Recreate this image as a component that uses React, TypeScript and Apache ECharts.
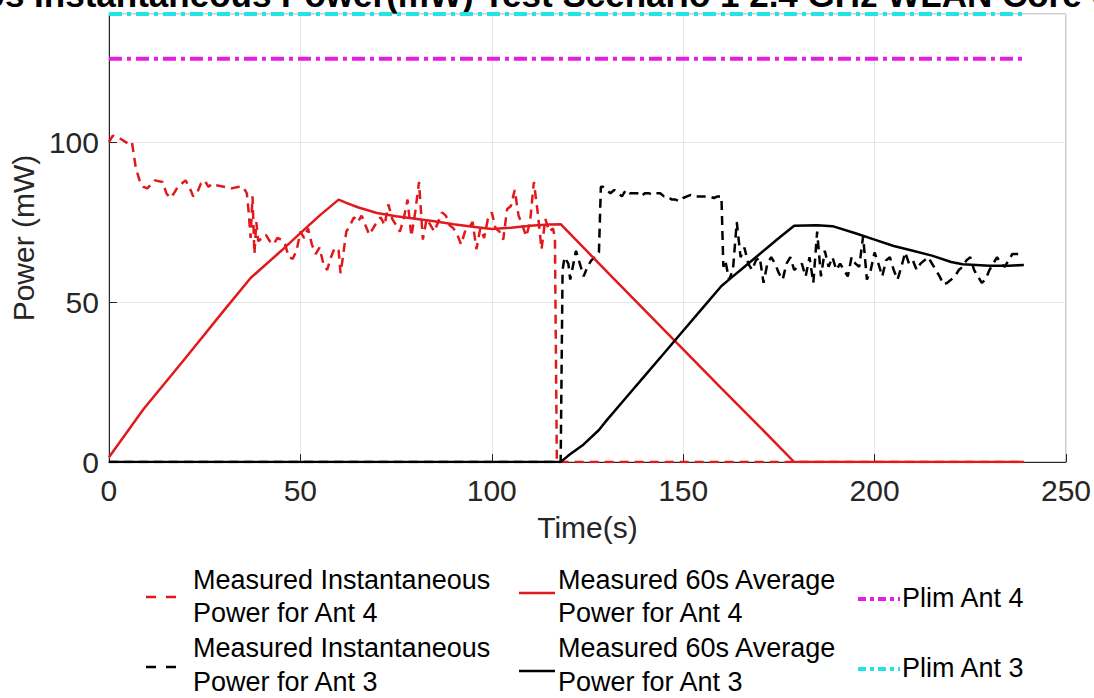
import React, { useEffect, useRef } from "react";
import * as echarts from "echarts";

// ---- data ----
const ant4InstTime = [0, 1, 3, 5, 6, 7, 8, 9, 10, 12, 14, 15, 16, 17, 18, 20, 21, 22, 23, 24, 25, 26, 27, 28, 30, 32, 34, 35, 36, 36.5, 37, 37.5, 38, 38.5, 39, 40, 41, 42, 43, 44, 45, 46, 47, 48, 49, 50, 51, 52, 53, 54, 55, 56, 57, 58, 59, 60, 60.5, 61, 62, 63, 64, 65, 66, 67, 68, 69, 70, 71, 72, 73, 74, 75, 76, 77, 78, 79, 80, 81, 82, 83, 84, 85, 86, 87, 88, 89, 90, 91, 92, 93, 94, 95, 96, 97, 98, 99, 100, 101, 102, 103, 104, 105, 106, 107, 108, 109, 110, 111, 112, 113, 114, 115, 116, 116.5, 117, 239];
const ant4InstValue = [100, 102, 101, 99.5, 100, 92, 88, 86, 85.5, 88, 87.5, 84, 82.5, 84, 86, 88, 86, 83, 84, 87, 88, 86, 87, 86.5, 86, 85.5, 86, 86, 84, 78, 70, 83, 65, 75, 69, 70, 71, 69, 68, 70, 69.5, 68, 64, 63.5, 66, 72, 70, 73, 68, 65, 67, 62, 60, 64, 67, 66, 59, 63, 72, 74, 76.5, 75, 77, 74, 71, 73, 75, 76.5, 74, 80.5, 76, 74, 72, 76, 82, 70.5, 78, 87.5, 69.5, 76, 74, 72, 75, 78, 77, 74, 73, 71, 68, 72, 73, 75, 66.5, 73, 70, 76, 78, 73, 72, 69.5, 79, 80, 85, 77, 74, 70.5, 75, 87.5, 78, 66.5, 76, 72, 73, 70, 0, 0];

const ant3InstTime = [0, 118, 118.5, 119, 120, 120.5, 121, 122, 123, 124, 125, 126, 127, 128, 128.5, 129, 130, 131, 132, 133, 134, 135, 136, 137, 138, 139, 140, 141, 142, 143, 144, 145, 146, 147, 148, 149, 150, 151, 152, 153, 154, 155, 156, 157, 158, 159, 160, 160.5, 161, 162, 163, 164, 165, 166, 167, 168, 169, 170, 171, 172, 173, 174, 175, 176, 177, 178, 179, 180, 181, 182, 183, 184, 185, 186, 187, 188, 189, 190, 191, 192, 193, 194, 195, 196, 197, 198, 199, 200, 201, 202, 203, 204, 205, 206, 207, 208, 209, 210, 211, 212, 213, 214, 215, 216, 217, 218, 219, 220, 221, 222, 223, 224, 225, 226, 227, 228, 229, 230, 231, 232, 233, 234, 235, 236, 237, 238, 239];
const ant3InstValue = [0, 0, 60, 64, 62, 57, 60, 66, 62, 58, 61, 63, 64, 65.5, 86, 86, 85, 84, 85, 84, 83, 85, 84, 84, 84, 83, 84, 84, 83.5, 84, 84, 83, 83, 82, 82, 81.5, 82.5, 83, 83.5, 83, 83, 83, 83, 83, 82.5, 83, 83, 61, 63, 57, 60, 75, 64, 67, 62, 60, 63, 64, 56, 62, 64, 62, 59, 57, 62, 64, 60, 61, 62, 58, 64, 56, 72, 58, 66, 61, 64, 60, 62, 60, 58, 64, 62, 61, 70.5, 57, 60, 65.5, 62, 58, 63, 64, 60, 57, 61, 65.5, 62, 63, 60, 62, 63, 64, 62, 60, 58, 55.5, 56, 57, 58, 60, 61, 63, 64, 60, 58, 56, 57, 60, 62, 64, 62, 61, 63, 65, 65, 65, 65];

const ant4AvgTime = [0, 9, 20, 30, 37, 45, 50, 55, 60, 62, 65, 70, 75, 80, 85, 90, 95, 100, 105, 110, 115, 118, 130, 140, 150, 160, 170, 179, 239];
const ant4AvgValue = [1.5, 16.5, 32.5, 47.3, 57.5, 66, 71.5, 77, 82, 81, 79.6, 77.8, 76.8, 76, 75.2, 74.3, 73.5, 72.8, 73.2, 73.8, 74.2, 74.3, 59.6, 47.4, 35.2, 23, 11, 0, 0];

const ant3AvgTime = [0, 118, 120, 124, 128, 130, 135, 140, 145, 150, 155, 160, 163, 165, 170, 175, 179, 185, 189, 195, 200, 205, 210, 215, 220, 223, 230, 235, 239];
const ant3AvgValue = [0, 0, 2, 5.5, 10, 13, 20, 27, 34, 41, 48, 55, 58, 60, 65, 70, 73.8, 74, 73.7, 71.5, 69.5, 67.5, 66, 64.5, 62.5, 61.8, 61.3, 61.3, 61.6];

const plimTime = [0, 239];
const plimAnt4 = 126;
const plimAnt3 = 140;

const xTicks = [0, 50, 100, 150, 200, 250];
const yTicks = [0, 50, 100];

const seriesNames = [
  "Measured Instantaneous Power for Ant 4",
  "Measured Instantaneous Power for Ant 3",
  "Measured 60s Average Power for Ant 4",
  "Measured 60s Average Power for Ant 3",
  "Plim Ant 4",
  "Plim Ant 3",
];
const titleText = "60s Instantaneous Power(mW) Test Scenario 1 2.4 GHz WLAN Core 0";

const RED = "#e2191c";
const BLACK = "#000000";
const MAGENTA = "#e21ee2";
const CYAN = "#22e4e4";
const FONT = "'Liberation Sans', Arial, Helvetica, sans-serif";

const zip = (t: number[], v: number[]) => t.map((x, i) => [x, v[i]]);

export default function App() {
  const ref = useRef<HTMLDivElement>(null);
  useEffect(() => {
    if (!ref.current) return;
    const chart = echarts.init(ref.current, undefined, { renderer: "svg" });
    const dashed = [9, 6];
    const dashDot = [13, 5, 4, 5];
    const legendText = (x: number, y: number, t: string) => ({
      type: "text",
      style: { text: t, x, y, font: `27px ${FONT}`, fill: "#000", textAlign: "left", textVerticalAlign: "middle" },
    });
    const legendLine = (x1: number, x2: number, y: number, color: string, dash: any, w: number) => ({
      type: "line",
      shape: { x1, y1: y, x2, y2: y },
      style: { stroke: color, lineWidth: w, lineDash: dash },
    });
    chart.setOption({
      animation: false,
      backgroundColor: "#ffffff",
      grid: { left: 107, right: 28, top: 14, bottom: 236, show: true, borderColor: "#a0a0a0", borderWidth: 1 },
      xAxis: [
        {
          type: "value",
          min: 0,
          max: 250,
          interval: 50,
          name: "Time(s)",
          nameLocation: "middle",
          nameGap: 50,
          nameTextStyle: { fontFamily: FONT, fontSize: 30, color: "#262626" },
          axisLine: { onZero: false, lineStyle: { color: "#262626", width: 1 } },
          axisTick: { inside: true, length: 8, lineStyle: { color: "#262626" } },
          axisLabel: { fontFamily: FONT, fontSize: 30, color: "#262626", margin: 13, formatter: (v: number) => (xTicks.includes(v) ? String(v) : "") },
          splitLine: { show: true, lineStyle: { color: "#e6e6e6", width: 1 } },
        },
      ],
      yAxis: [
        {
          type: "value",
          min: 0,
          max: 140,
          interval: 50,
          name: "Power (mW)",
          nameLocation: "middle",
          nameGap: 66,
          nameTextStyle: { fontFamily: FONT, fontSize: 30, color: "#262626" },
          axisLine: { show: true, onZero: false, lineStyle: { color: "#262626", width: 1 } },
          axisTick: { inside: true, length: 8, lineStyle: { color: "#262626" } },
          axisLabel: { fontFamily: FONT, fontSize: 30, color: "#262626", margin: 10, showMaxLabel: false, formatter: (v: number) => (yTicks.includes(v) ? String(v) : "") },
          splitLine: { show: true, lineStyle: { color: "#e6e6e6", width: 1 } },
        },
      ],
      series: [
        { name: seriesNames[0], type: "line", data: zip(ant4InstTime, ant4InstValue), showSymbol: false, lineStyle: { color: RED, width: 2.5, type: dashed }, itemStyle: { color: RED } },
        { name: seriesNames[1], type: "line", data: zip(ant3InstTime, ant3InstValue), showSymbol: false, lineStyle: { color: BLACK, width: 2.5, type: dashed }, itemStyle: { color: BLACK } },
        { name: seriesNames[2], type: "line", data: zip(ant4AvgTime, ant4AvgValue), showSymbol: false, lineStyle: { color: RED, width: 2.5 }, itemStyle: { color: RED } },
        { name: seriesNames[3], type: "line", data: zip(ant3AvgTime, ant3AvgValue), showSymbol: false, lineStyle: { color: BLACK, width: 2.5 }, itemStyle: { color: BLACK } },
        { name: seriesNames[4], type: "line", data: plimTime.map((t) => [t, plimAnt4]), showSymbol: false, lineStyle: { color: MAGENTA, width: 4, type: dashDot }, itemStyle: { color: MAGENTA } },
        { name: seriesNames[5], type: "line", data: plimTime.map((t) => [t, plimAnt3]), showSymbol: false, lineStyle: { color: CYAN, width: 4, type: dashDot }, itemStyle: { color: CYAN } },
      ],
      graphic: [
        {
          type: "text",
          z: -1,
          style: { text: titleText, x: -34, y: 12, font: `bold 35px ${FONT}`, fill: "#000", textAlign: "left", textVerticalAlign: "bottom" },
        },
        legendLine(146, 180, 597, RED, [10, 10], 2.5),
        legendText(193, 580, "Measured Instantaneous"),
        legendText(193, 613, "Power for Ant 4"),
        legendLine(146, 180, 667, BLACK, [10, 10], 2.5),
        legendText(193, 648, "Measured Instantaneous"),
        legendText(193, 682, "Power for Ant 3"),
        legendLine(519, 555, 593, RED, null, 2.5),
        legendText(558, 580, "Measured 60s Average"),
        legendText(558, 613, "Power for Ant 4"),
        legendLine(519, 555, 671, BLACK, null, 2.5),
        legendText(558, 648, "Measured 60s Average"),
        legendText(558, 682, "Power for Ant 3"),
        legendLine(858, 900, 599, MAGENTA, [8, 4, 4, 4], 4),
        legendText(902, 598, "Plim Ant 4"),
        legendLine(858, 900, 669, CYAN, [8, 4, 4, 4], 4),
        legendText(902, 668, "Plim Ant 3"),
      ],
    });
    return () => chart.dispose();
  }, []);
  return <div ref={ref} style={{ position: "fixed", left: 0, top: 0, width: 1094, height: 698, background: "#fff" }} />;
}
